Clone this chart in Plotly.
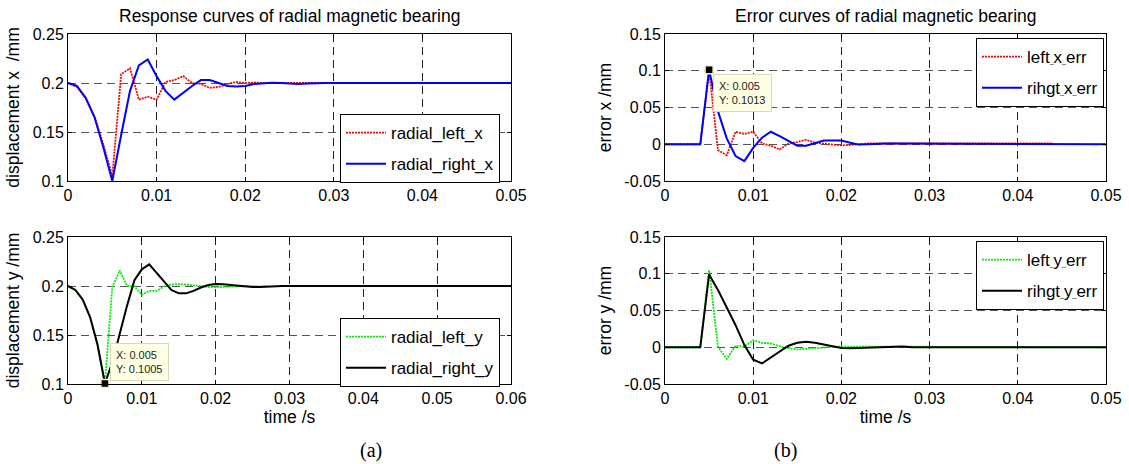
import plotly.graph_objects as go

# ---------------- data ----------------
TIME_FINE = [0.000, 0.001, 0.002, 0.003, 0.004, 0.005, 0.006, 0.007, 0.008, 0.009,
             0.010, 0.011, 0.012, 0.013, 0.014, 0.015, 0.016, 0.017, 0.018, 0.019,
             0.020, 0.021, 0.022, 0.023, 0.024, 0.025, 0.026, 0.027, 0.028, 0.029,
             0.030]
TAIL_044 = [0.035, 0.040, 0.044]
TAIL_050 = [0.035, 0.040, 0.044, 0.050]
TAIL_060 = [0.035, 0.040, 0.050, 0.060]

# (a) top: displacement x
radial_left_x = [0.200, 0.196, 0.184, 0.165, 0.137, 0.105, 0.209, 0.215, 0.183, 0.186,
                 0.183, 0.201, 0.203, 0.207, 0.200, 0.199, 0.195, 0.196, 0.199, 0.201,
                 0.200, 0.2005, 0.200, 0.200, 0.200, 0.200, 0.200, 0.2005, 0.200, 0.200,
                 0.200, 0.200, 0.200, 0.200]
radial_right_x = [0.200, 0.197, 0.185, 0.165, 0.134, 0.100, 0.147, 0.192, 0.218, 0.224,
                  0.207, 0.192, 0.183, 0.190, 0.197, 0.203, 0.203, 0.200, 0.197, 0.1965,
                  0.197, 0.199, 0.200, 0.2003, 0.200, 0.1995, 0.199, 0.1995, 0.200, 0.200,
                  0.200, 0.200, 0.200, 0.200, 0.200]

# (a) bottom: displacement y
radial_left_y = [0.200, 0.196, 0.186, 0.168, 0.140, 0.1005, 0.199, 0.216, 0.200, 0.1995,
                 0.191, 0.195, 0.195, 0.1995, 0.2015, 0.202, 0.2015, 0.2005, 0.1995, 0.199,
                 0.1988, 0.199, 0.1995, 0.200, 0.200, 0.200, 0.1995, 0.200]
radial_right_y = [0.200, 0.196, 0.186, 0.168, 0.140, 0.1005, 0.122, 0.152, 0.180, 0.206,
                  0.217, 0.222, 0.213, 0.204, 0.196, 0.1925, 0.1925, 0.195, 0.1985, 0.201,
                  0.202, 0.2018, 0.201, 0.200, 0.1995, 0.199, 0.199, 0.1995, 0.200, 0.200,
                  0.200, 0.200, 0.200, 0.200, 0.200]

# (b) top: error x
left_x_err = [0.0, 0.0, 0.0, 0.0, 0.0, 0.100, -0.008, -0.015, 0.017, 0.014,
              0.017, 0.001, -0.002, -0.007, 0.001, 0.003, 0.006, 0.002, 0.0005, -0.001,
              -0.0015, -0.001, 0.0005, 0.001, 0.001, 0.001, 0.001, 0.001, 0.001, 0.001,
              0.001, 0.001, 0.001, 0.001]
rihgt_x_err = [0.0, 0.0, 0.0, 0.0, 0.0, 0.1013, 0.045, 0.008, -0.016, -0.023,
               -0.005, 0.009, 0.017, 0.011, 0.004, -0.002, -0.002, 0.002, 0.005, 0.005,
               0.005, 0.002, -0.0005, 0.0, 0.001, 0.001, 0.001, 0.001, 0.001, 0.001,
               0.001, 0.001, 0.001, 0.0, 0.0]

# (b) bottom: error y
left_y_err = [0.0, 0.0, 0.0, 0.0, 0.0, 0.105, 0.001, -0.016, 0.002, 0.001,
              0.0095, 0.006, 0.005, 0.0015, -0.0015, -0.003, -0.002, -0.001, 0.0, 0.0005,
              0.001, 0.001, 0.001, 0.0005, 0.0, 0.0, 0.0, 0.0, 0.0, 0.0,
              0.0, 0.0, 0.0, 0.0, 0.0]
rihgt_y_err = [0.0, 0.0, 0.0, 0.0, 0.0, 0.099, 0.078, 0.054, 0.030, 0.003,
               -0.017, -0.022, -0.014, -0.005, 0.002, 0.006, 0.0075, 0.006, 0.0035, 0.0005,
               -0.001, -0.0015, -0.001, 0.0, 0.0005, 0.001, 0.0012, 0.001, 0.0, 0.0,
               0.0, 0.0, 0.0, 0.0, 0.0]

# data tips
tip_a = {"x": 0.005, "y": 0.1005}
tip_b = {"x": 0.005, "y": 0.1013}

# tick labels
X_TICKS_05 = [0, 0.01, 0.02, 0.03, 0.04, 0.05]
X_TICKS_06 = [0, 0.01, 0.02, 0.03, 0.04, 0.05, 0.06]
DISP_TICKS = [0.1, 0.15, 0.2, 0.25]
DISP_TEXT = ["0.1", "0.15", "0.2", "0.25"]
ERR_TICKS = [-0.05, 0, 0.05, 0.1, 0.15]
ERR_TEXT = ["-0.05", "0", "0.05", "0.1", "0.15"]

# ---------------- figure ----------------
FONT = "Liberation Sans, Arial, sans-serif"
W, H = 1129, 464


def px(x):   # page pixel -> paper x
    return x / W


def py(y):   # page pixel -> paper y
    return 1 - y / H


fig = go.Figure()


def tex_name(name):
    # underscores rendered tiny, like the TeX-interpreted legend of the original
    return name.replace("_", "<span style='font-size:7px'>_</span>")


def line(x, y, name, color, dash, width, xa, ya, legend, small_us=False):
    fig.add_trace(go.Scatter(
        x=x, y=y, name=tex_name(name) if small_us else name, mode="lines",
        line=dict(color=color, dash=dash, width=width),
        xaxis=xa, yaxis=ya, legend=legend, legendgroup=name,
        hoverinfo="skip"))


DOT = "2px,1px"
line(TIME_FINE + TAIL_044, radial_left_x, "radial_left_x", "#ff0000", DOT, 1.8, "x", "y", "legend")
line(TIME_FINE + TAIL_050, radial_right_x, "radial_right_x", "#0000ff", "solid", 2, "x", "y", "legend")

line(TIME_FINE[:len(radial_left_y)], radial_left_y, "radial_left_y", "#00ee00", DOT, 1.8, "x3", "y3", "legend3")
line(TIME_FINE + TAIL_060, radial_right_y, "radial_right_y", "#000000", "solid", 2, "x3", "y3", "legend3")

line(TIME_FINE + TAIL_044, left_x_err, "left_x_err", "#ff0000", DOT, 1.8, "x2", "y2", "legend2", True)
line(TIME_FINE + TAIL_050, rihgt_x_err, "rihgt_x_err", "#0000ff", "solid", 2, "x2", "y2", "legend2", True)

line(TIME_FINE + TAIL_050, left_y_err, "left_y_err", "#00ee00", DOT, 1.8, "x4", "y4", "legend4", True)
line(TIME_FINE + TAIL_050, rihgt_y_err, "rihgt_y_err", "#000000", "solid", 2, "x4", "y4", "legend4", True)

# data-tip markers
for tip, xa, ya in [(tip_a, "x3", "y3"), (tip_b, "x2", "y2")]:
    fig.add_trace(go.Scatter(
        x=[tip["x"]], y=[tip["y"]], mode="markers", showlegend=False,
        marker=dict(symbol="square", size=8, color="black",
                    line=dict(color="#f5f0b0", width=1.5)),
        xaxis=xa, yaxis=ya, cliponaxis=False, hoverinfo="skip"))

LEFT_DOM = [px(68), px(511)]
RIGHT_DOM = [px(665), px(1106)]
TOP_DOM = [py(181), py(34)]
BOT_DOM = [py(384), py(237)]

tickfont = dict(family=FONT, size=16, color="black")
axtitlefont = dict(family=FONT, size=17.5, color="black")
GRIDDASH = "8px,5px"


def xaxis(domain, rng, ticks, anchor, title=None):
    d = dict(domain=domain, range=rng, tickvals=ticks, ticktext=[f"{t:g}" for t in ticks],
             showline=True, linecolor="black", linewidth=1, mirror="ticks",
             ticks="inside", ticklen=4, tickcolor="black",
             showgrid=True, gridcolor="#222222", gridwidth=1, griddash=GRIDDASH,
             zeroline=False, tickfont=tickfont, anchor=anchor, fixedrange=True,
             automargin=False)
    if title:
        d["title"] = dict(text=title, font=axtitlefont, standoff=4)
    return d


def yaxis(domain, rng, ticks, text, anchor, title):
    return dict(domain=domain, range=rng, tickvals=ticks, ticktext=text,
                showline=True, linecolor="black", linewidth=1, mirror="ticks",
                ticks="inside", ticklen=4, tickcolor="black",
                showgrid=True, gridcolor="#555555", gridwidth=1, griddash=GRIDDASH,
                zeroline=False, tickfont=tickfont, anchor=anchor, fixedrange=True,
                automargin=False,
                title=dict(text=title, font=axtitlefont, standoff=8))


legend_style = dict(bgcolor="white", bordercolor="black", borderwidth=1,
                    font=dict(family=FONT, size=17, color="black"),
                    xanchor="right", yanchor="top", tracegroupgap=6,
                    itemwidth=40)

fig.update_layout(
    width=W, height=H,
    margin=dict(l=0, r=0, t=0, b=0, autoexpand=False),
    paper_bgcolor="white", plot_bgcolor="white",
    font=dict(family=FONT, color="black"),
    xaxis=xaxis(LEFT_DOM, [0, 0.05], X_TICKS_05, "y"),
    yaxis=yaxis(TOP_DOM, [0.1, 0.25], DISP_TICKS, DISP_TEXT, "x", "displacement x  /mm"),
    xaxis2=xaxis(RIGHT_DOM, [0, 0.05], X_TICKS_05, "y2"),
    yaxis2=yaxis(TOP_DOM, [-0.05, 0.15], ERR_TICKS, ERR_TEXT, "x2", "error x /mm"),
    xaxis3=xaxis(LEFT_DOM, [0, 0.06], X_TICKS_06, "y3", "time /s"),
    yaxis3=yaxis(BOT_DOM, [0.1, 0.25], DISP_TICKS, DISP_TEXT, "x3", "displacement y /mm"),
    xaxis4=xaxis(RIGHT_DOM, [0, 0.05], X_TICKS_05, "y4", "time /s"),
    yaxis4=yaxis(BOT_DOM, [-0.05, 0.15], ERR_TICKS, ERR_TEXT, "x4", "error y /mm"),
    legend=dict(legend_style, x=px(500), y=py(114)),
    legend2=dict(legend_style, x=px(1104), y=py(38)),
    legend3=dict(legend_style, x=px(500), y=py(318)),
    legend4=dict(legend_style, x=px(1104), y=py(241)),
    showlegend=True,
)

titlefont = dict(family=FONT, size=17.5, color="black")
serif = dict(family="Liberation Serif, Times New Roman, serif", size=20, color="black")
annotations = [
    dict(text="Response curves of radial magnetic bearing", x=sum(LEFT_DOM) / 2, y=py(16),
         xref="paper", yref="paper", showarrow=False, font=titlefont,
         xanchor="center", yanchor="middle"),
    dict(text="Error curves of radial magnetic bearing", x=sum(RIGHT_DOM) / 2, y=py(16),
         xref="paper", yref="paper", showarrow=False, font=titlefont,
         xanchor="center", yanchor="middle"),
    dict(text="(a)", x=px(371), y=py(450), xref="paper", yref="paper",
         showarrow=False, font=serif, xanchor="center", yanchor="middle"),
    dict(text="(b)", x=px(785), y=py(450), xref="paper", yref="paper",
         showarrow=False, font=serif, xanchor="center", yanchor="middle"),
    dict(text=f"X: {tip_a['x']:g}<br>Y: {tip_a['y']:g}", x=tip_a["x"], y=tip_a["y"],
         xref="x3", yref="y3", xanchor="left", yanchor="bottom", xshift=5, yshift=3,
         showarrow=False, align="left", bgcolor="#ffffe4", bordercolor="#d8d8b8",
         borderwidth=1, borderpad=5, font=dict(family=FONT, size=11, color="#222222")),
    dict(text=f"X: {tip_b['x']:g}<br>Y: {tip_b['y']:g}", x=tip_b["x"], y=tip_b["y"],
         xref="x2", yref="y2", xanchor="left", yanchor="top", xshift=4, yshift=-4,
         showarrow=False, align="left", bgcolor="#ffffe4", bordercolor="#d8d8b8",
         borderwidth=1, borderpad=5, font=dict(family=FONT, size=11, color="#222222")),
]
fig.update_layout(annotations=annotations)

fig.write_html("out.html",
               config={"displayModeBar": False, "staticPlot": True},
               post_script="document.body.style.margin='0';document.body.style.overflow='hidden';")
